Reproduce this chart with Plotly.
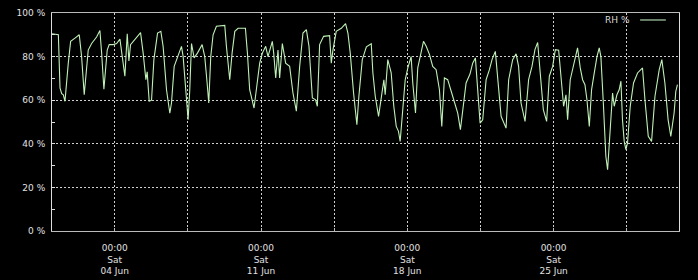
import pandas as pd
import plotly.graph_objects as go

# hours since 2022-06-01 00:00 and relative humidity (%)
hours = [0, 7.3, 9.2, 11.1, 13, 14.9, 18.7, 21.4, 26.4, 31.3, 34, 37, 41.6, 45.5, 51.2, 55, 57, 59.6,
         63.4, 65.7, 70.3, 74.2, 78, 81, 83.7, 86.4, 88.3, 90.2, 95.2, 101.7, 104.7, 107.8, 109.3,
         111.6, 114.3, 117, 121.2, 125, 127.6, 131.5, 135.3, 137.2, 140.3, 144.1, 148.7, 150.6,
         153.3, 156.3, 158.2, 160.2, 163.2, 167, 172.4, 175.4, 178.1, 180, 182.3, 185, 188.8,
         198.4, 200.3, 204.1, 206.8, 209.9, 213.6, 222.1, 224.4, 227, 232, 235.9, 238.5, 241.6,
         245.4, 248, 253, 254.6, 256.9, 259.5, 261.4, 264.5, 268.3, 272.9, 276.7, 280.6, 284.4,
         288.2, 292.1, 295.1, 299, 302.7, 304.7, 307.3, 311.9, 318.8, 320.7, 322.6, 326.4, 332.2,
         337.1, 339.8, 342.5, 346.3, 350.1, 352.4, 356.3, 361, 366.6, 368.5, 371.2, 375, 378.1,
         381.1, 382.6, 385.6, 389.5, 392.5, 395.3, 397.9, 399.8, 401.7, 405.6, 408.6, 412.4,
         414.3, 417.4, 420, 424, 426.6, 429.7, 433.5, 437.2, 441.1, 444.9, 447.6, 450.6, 454.4,
         459, 462.1, 465.9, 469, 471.6, 475.5, 480, 483.1, 486.2, 488.9, 491.6, 494.6, 498.5,
         502.3, 505.3, 509.1, 511.8, 515.7, 521.4, 524.4, 529, 532.9, 535.8, 538.6, 543.2, 547.3,
         551.2, 554.6, 557.7, 560.4, 564.2, 568, 571.1, 574.9, 578, 581.8, 584.5, 587.5, 590.2,
         592.1, 595.1, 597.8, 600.5, 603.5, 606.6, 609.3, 612, 614.3, 617, 619.6, 622.7, 625.8,
         628.4, 630.3, 633.3, 636, 638, 641, 643.7, 645.6, 648.7, 651.3, 653.3, 655.1, 657.1,
         659, 660.9, 664, 667.8, 672.4, 678.1, 680.9, 684.7, 688.5, 692.4, 697.3, 700.3, 703.8,
         707.5, 710.6, 714.4, 716.3, 718.2]
rh = [90.5, 90, 65.6, 63, 62.5, 59.5, 77, 87, 88.5, 90, 80, 62.5, 83, 86, 89, 92, 81.6, 65,
      83, 85.5, 85.5, 86, 88, 78.6, 71, 90.5, 78, 85.5, 88, 91, 81.6, 69.4, 73,
      59.5, 60, 78.6, 90.8, 91.6, 84.7, 64.8, 54, 58.7, 75.5, 80, 84.7, 80,
      64.8, 51, 64.8, 86, 79.4, 81.6, 85.5, 80, 68, 58.7, 80, 90, 93.9,
      94.3, 84.7, 69.4, 81.6, 91.6, 93, 93, 81.6, 64.8, 56.4, 69.4, 77, 81.6,
      84.7, 80, 87, 81.6, 70.2, 83, 70.2, 86, 77, 75.5, 63.3, 55, 75.5,
      90.8, 92.4, 84.7, 61, 60.2, 57.2, 85.5, 89.3, 89.6, 77, 83, 91.6, 93,
      95.1, 90.8, 81.6, 63.3, 48.8, 61.8, 78.6, 84.5, 85.9, 72.5, 61.8, 52.6, 61.8,
      69.4, 62.5, 78.6, 72.5, 57.2, 48, 45.7, 41.1, 49.5, 69.4, 74.8, 80,
      67.9, 54.1, 74.8, 81.6, 87, 84.7, 80.9, 75.5, 74, 64.8, 48, 70.2, 69.4,
      63.3, 58.7, 54.1, 46.5, 54.1, 67.9, 72, 77, 79.4, 61.8, 49.5, 51, 69.4,
      74, 78.6, 82.4, 71, 52.6, 47.2, 69.4, 78.6, 81.3, 75.5, 58.7, 50.3, 69.4,
      75.5, 83.2, 86.5, 74, 55.7, 50.3, 71, 75.5, 83.2, 82.9, 69.4, 57.2, 62.5,
      51, 69.4, 74, 77.5, 84, 74.8, 69.4, 67.1, 60.2, 48, 64.8, 72.5, 80,
      84, 80, 57.2, 34.3, 28.1, 45, 63.3, 57.2, 62.5, 64.8, 68.7, 51, 41.1,
      37.3, 40.4, 57.2, 67.9, 72.5, 74.8, 60.2, 43.4, 41.1, 61.8, 74, 78.6, 67.9,
      51, 43.4, 54.1, 64, 67.1]

tick_dates = ["2022-06-04", "2022-06-11", "2022-06-18", "2022-06-25"]
tick_labels = ["00:00<br>Sat<br>04 Jun", "00:00<br>Sat<br>11 Jun",
               "00:00<br>Sat<br>18 Jun", "00:00<br>Sat<br>25 Jun"]
y_ticks = [0, 20, 40, 60, 80, 100]
y_labels = ["0 %", "20 %", "40 %", "60 %", "80 %", "100 %"]

times = pd.Timestamp("2022-06-01") + pd.to_timedelta(hours, unit="h")

fig = go.Figure()
fig.add_trace(go.Scatter(x=times, y=rh, mode="lines", name="RH %",
                         line=dict(color="#bff0b6", width=1.1), showlegend=False))

font = dict(family="DejaVu Sans", size=9, color="#e0e0e0")
grid = "#cfcfcf"

fig.update_layout(
    width=698, height=280,
    margin=dict(l=52, r=19, t=13, b=49, autoexpand=False),
    paper_bgcolor="black", plot_bgcolor="black",
    font=font,
    xaxis=dict(
        type="date", range=["2022-06-01", "2022-07-01"], automargin=False,
        tickmode="array", tickvals=tick_dates, ticktext=tick_labels,
        showgrid=True, gridcolor=grid, griddash="2px,2px", gridwidth=1,
        ticks="inside", ticklen=3, tickcolor="#bbbbbb",
        showline=True, linecolor="#bbbbbb", linewidth=1, mirror=True,
        zeroline=False, tickfont=font, ticklabelstandoff=8,
        minor=dict(dtick=302400000, tick0="2022-06-04", showgrid=True,
                   gridcolor=grid, griddash="2px,2px", ticks="inside",
                   ticklen=3, tickcolor="#bbbbbb"),
    ),
    yaxis=dict(
        range=[0, 100], tickmode="array", tickvals=y_ticks, ticktext=y_labels,
        automargin=False,
        showgrid=True, gridcolor=grid, griddash="2px,2px", gridwidth=1,
        ticks="inside", ticklen=3, tickcolor="#dddddd",
        showline=True, linecolor="#dddddd", linewidth=1, mirror=True,
        zeroline=False, tickfont=font, ticklabelstandoff=4,
        minor=dict(dtick=10, tick0=0, ticks="inside", ticklen=3,
                   tickcolor="#dddddd", showgrid=False),
    ),
    annotations=[dict(text="RH %", xref="paper", yref="paper", x=0.925, y=0.968,
                      xanchor="right", yanchor="middle", showarrow=False,
                      font=dict(family="DejaVu Sans", size=9, color="#d8d8d8"))],
    shapes=[dict(type="line", xref="paper", yref="paper", x0=0.938, x1=0.979,
                 y0=0.968, y1=0.968, line=dict(color="#8aa88a", width=1.5))],
)

fig.write_html("out.html", config={"displayModeBar": False},
               post_script="document.body.style.margin='0';document.body.style.background='black';")
